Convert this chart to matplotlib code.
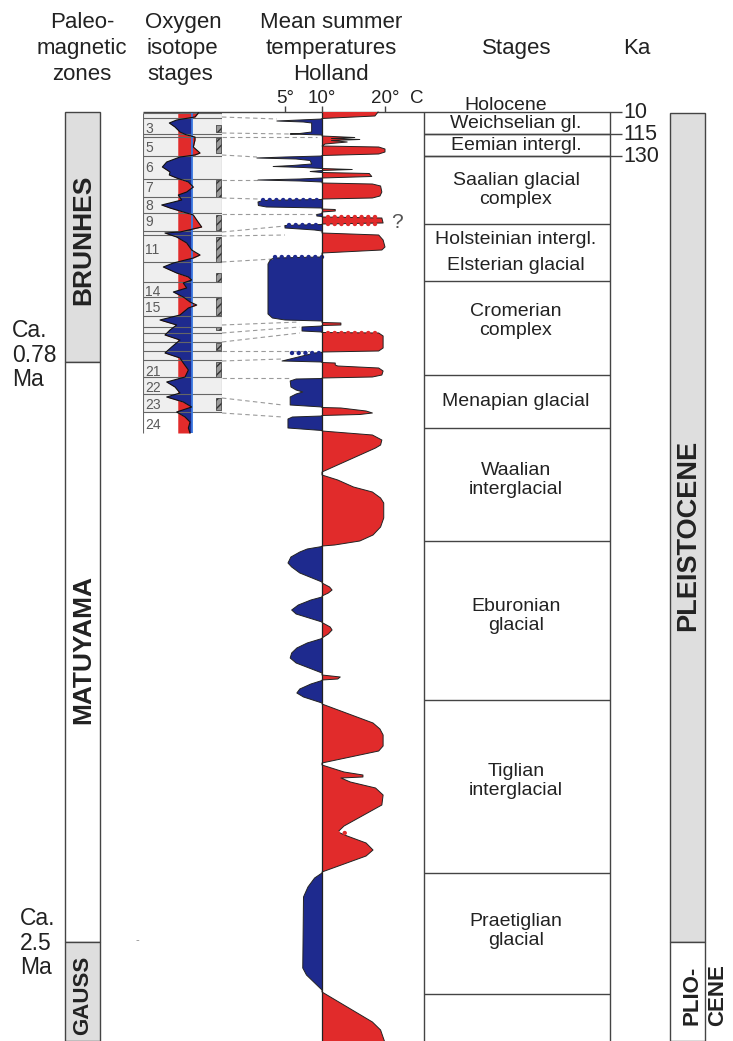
# ==================================================================================
# IMPORT LIBRARIES
# ==================================================================================
from matplotlib import pyplot as plt
import numpy as np

plt.rcParams['font.family'] = ['Liberation Sans', 'DejaVu Sans']

# ==================================================================================
# DATA  (vertical unit = position down the chart, time is not linear)
# ==================================================================================
# Paleomagnetic zones
mag_names   = ['BRUNHES', 'MATUYAMA', 'GAUSS']
mag_top     = [112, 362, 942]
mag_bottom  = [362, 942, 1041]
mag_label_y = [240, 650, 995]
mag_size    = [19, 19, 16]

# Epochs (right column)
epoch_names   = ['PLEISTOCENE', 'PLIO-\nCENE']
epoch_top     = [113, 942]
epoch_bottom  = [942, 1041]
epoch_label_y = [535, 995]

# Boundary ages
age_labels = ['Ca.\n0.78\nMa', 'Ca.\n2.5\nMa']
age_y      = [355, 943]
age_x      = [12, 20]

# Stages of Holland
stage_bounds = [112, 134, 156, 224, 281, 375, 428, 541, 700, 873, 994, 1041]
stage_names  = ['Weichselian gl.', 'Eemian intergl.', 'Saalian glacial\ncomplex',
                'Holsteinian intergl.', 'Elsterian glacial', 'Cromerian\ncomplex',
                'Menapian glacial', 'Waalian\ninterglacial', 'Eburonian\nglacial',
                'Tiglian\ninterglacial', 'Praetiglian\nglacial']
stage_text_y = [123, 145, 190, 240, 266, 321, 401, 480, 616, 781, 931]

# Ka marks
ka_labels = ['10', '115', '130']
ka_y      = [112, 134, 156]

# Oxygen isotope column (x in 0..100 across the column)
iso_bounds   = [113, 118, 134, 137, 156, 179, 197, 213, 231, 235, 262, 282, 297,
                316, 327, 333, 342, 351, 360, 377, 394, 412]
iso_numbers  = ['3', '5', '6', '7', '8', '9', '11', '14', '15', '21', '22', '23', '24']
iso_number_y = [129, 148, 168, 188, 206, 222, 250, 292, 308, 372, 388, 405, 425]
iso_marks    = [(125, 132), (138, 153), (180, 197), (215, 230), (237, 262), (273, 282),
                (298, 315), (327, 330), (343, 350), (362, 377), (398, 410)]
iso_y = [113, 117, 120, 123, 127, 132, 135, 137, 140, 147, 153, 155, 157, 162, 167,
         172, 175, 178, 182, 187, 192, 195, 200, 205, 208, 212, 215, 220, 227, 232,
         233, 237, 243, 250, 255, 258, 263, 267, 273, 277, 280, 283, 288, 292, 297,
         302, 305, 308, 315, 320, 325, 330, 335, 340, 347, 353, 358, 363, 370, 377,
         382, 387, 393, 397, 402, 407, 412, 417, 422, 428, 433]
iso_x = [70, 65.8, 42.6, 33.3, 40.5, 46.8, 55.3, 65.8, 65.8, 63.7, 72.2, 65.8, 46.8, 30, 24.5,
         34.2, 33.3, 42.6, 57.4, 63.7, 55.3, 44.7, 49, 23.7, 34.2, 51, 63.7, 68, 74.3, 46.8,
         27.8, 42.6, 55.3, 61.6, 72.2, 63.7, 38.4, 25.7, 42.6, 57.4, 61.6, 51, 55.3, 38.4, 51,
         59.5, 68, 57.4, 46.8, 21.5, 42.6, 34.2, 27.8, 46.8, 36.3, 27.8, 46.8, 51, 57.4, 53.2,
         30, 40.5, 46.8, 30, 51, 61.6, 42.6, 53.2, 59.5, 57.4, 59.5]
iso_red_base  = 44
iso_blue_base = 62

# Mean summer temperature, Holland (position, degrees C)
temp_curve = [
    # Holocene
    (112, 18.9), (116, 18.4), (118.5, 10),
    # Weichselian
    (119, 10), (120, 7.0), (121, 3.9), (122, 7.5), (123, 8.6), (132, 8.6), (133.5, 7.0), (134, 5.7), (135, 10),
    # Eemian
    (136, 10), (137.5, 15.2), (138.5, 11.5), (139.5, 16.0), (140.5, 11.5), (142, 14.0), (144, 10.5), (146, 10),
    (147, 19.0), (149, 20.0), (152, 20.0), (154, 19.0), (155.5, 10),
    # Saalian
    (156, 10), (157, 5.0), (158, 1.2), (159, 6.5), (160.5, 8.4), (164, 8.6), (165.5, 6.0), (166.5, 3.4),
    (167.5, 7.5), (168.5, 10), (169.5, 14.8), (170.5, 10), (171.5, 8.4), (172.5, 10), (173.5, 17.5),
    (176.5, 17.9), (178, 10), (179, 7.0), (180, 1.35), (181, 7.0), (182, 10),
    (183, 10), (184, 18.0), (186, 19.3), (192, 19.5), (196, 19.2), (198, 18.0), (199, 10),
    (199.5, 10), (200.5, 2.0), (202, 1.35), (205.5, 1.4), (207, 2.5), (208, 10),
    (209, 10), (209.5, 12.1), (211, 12.1), (212, 10),
    (213.5, 10), (214.5, 9.3), (216, 9.3), (216.5, 10),
    (217, 10), (218, 19.5), (223, 19.7), (224, 10),
    (224.5, 10), (225.5, 5.0), (228, 5.0), (230, 9.0), (231, 10),
    # Holsteinian
    (233, 10), (235, 19.0), (240, 19.7), (247, 20.0), (250, 19.5), (253, 10),
    # Elsterian
    (257, 10), (258, 3.5), (260, 3.0), (264, 2.7), (314, 2.7), (318, 3.3), (320, 5.0), (321, 10),
    # Cromerian
    (322.5, 10), (323, 13.0), (325, 13.0), (325.5, 10),
    (326, 10), (327, 7.3), (331, 7.3), (332, 10),
    (332.5, 10), (333, 19.0), (336, 19.7), (348, 19.7), (351, 19.0), (352, 10),
    (352.5, 10), (353, 9.0), (361, 4.6), (362, 10),
    (362.5, 10), (363, 12.1), (365, 12.1), (366, 12.5), (368, 19.0), (371, 19.7), (375, 19.5), (377, 18.0), (378, 10),
    # Menapian
    (378.5, 10), (379, 6.5), (381, 5.7), (387, 5.8), (390, 6.5), (392, 7.4), (394, 6.5), (397, 5.7), (405, 5.7), (407, 10),
    (407.5, 10), (408, 13.0), (411, 17.0), (413, 18.0), (414.5, 16.0), (415.5, 10),
    (416, 10), (417, 6.0), (419, 5.4), (428, 5.4), (430, 9.0), (430.5, 10),
    # Waalian
    (431, 10), (435, 18.0), (440, 19.5), (445, 19.3), (448, 18.5), (472, 10),
    (475, 10), (480, 12.5), (487, 15.0), (492, 18.0), (498, 19.3), (503, 19.8), (518, 19.8),
    (527, 19.3), (535, 18.1), (541, 16.0), (545, 12.0), (546, 10),
    # Eburonian
    (546.5, 10), (549, 8.0), (552, 7.0), (557, 5.8), (563, 5.4), (567, 5.9), (573, 7.0), (582, 10),
    (583, 10), (587, 11.2), (590, 11.6), (593, 11.0), (596, 10),
    (597, 10), (600, 8.5), (605, 6.8), (610, 5.9), (614, 6.5), (622, 10),
    (622.5, 10), (627, 11.3), (630, 11.6), (634, 11.0), (638, 10),
    (638.5, 10), (643, 8.0), (648, 6.6), (653, 5.9), (658, 5.7), (663, 6.5), (673, 10),
    (675, 10), (677, 12.9), (679, 12.5), (680, 10),
    (680.5, 10), (684, 8.5), (689, 7.0), (693, 6.6), (697, 7.5), (703, 10),
    # Tiglian
    (704, 10), (723, 18.1), (729, 19.2), (735, 19.7), (746, 19.7), (751, 19.0), (763, 10),
    (765, 10), (772, 13.5), (775, 16.5), (777, 16.5), (778, 13.0), (782, 14.5), (788, 18.5),
    (795, 19.7), (805, 19.5), (812, 17.5), (826, 13.5), (832, 12.5), (836, 14.0), (843, 17.0),
    (850, 18.1), (856, 17.0), (872, 10),
    # Praetiglian
    (873, 10), (878, 9.0), (887, 8.1), (897, 7.5), (968, 7.4), (975, 7.9), (990, 10),
    (992, 10), (1022, 18.0), (1030, 19.3), (1041, 19.9),
]

# Wavy (scalloped) edges of some of the curve lobes: (position, from degC, to degC, colour key)
scallops = [(199.6, 2.0, 10, 'b'), (217.3, 11, 19.4, 'r'), (223.8, 11, 19.4, 'r'),
            (224.8, 5.5, 10, 'b'), (257.3, 3.6, 10, 'b'), (332.7, 11, 19.2, 'r'),
            (352.6, 6.0, 10, 'b'), (832.5, 12.6, 14.5, 'r')]

# Dashed correlation lines: (position at isotope column, position at curve, temperature at curve)
links = [(117, 119, 3.9), (133, 134, 5.7), (137, 137, 9.3), (155, 157, 1.2), (180, 180, 1.35),
         (198, 199, 1.35), (214, 214, 9.3), (232, 226, 5.0), (236, 235, 5.0), (262, 259, 3.4),
         (325, 322, 7.0), (333, 327, 7.0), (342, 333, 7.0), (351, 351, 8.4), (361, 359, 4.6),
         (378, 378, 5.7), (398, 405, 4.7), (413, 417, 4.7)]

temp_ticks = [5, 10, 20]

RED  = '#e12b2b'
BLUE = '#1e2a8e'
GREY = '#dedede'
LINE = '#444444'
TEXT = '#222222'


# ==================================================================================
# TEMPERATURE SCALE (two slopes, as drawn in the original)
# ==================================================================================
def t_to_px(t):
    t = np.asarray(t, dtype=float)
    return np.where(t < 10, 322 + (t - 10) * 7.4, 322 + (t - 10) * 6.3)

def px_to_t(x):
    x = np.asarray(x, dtype=float)
    return np.where(x < 322, 10 + (x - 322) / 7.4, 10 + (x - 322) / 6.3)


# ==================================================================================
# FIGURE
# ==================================================================================
fig = plt.figure(figsize=(7.33, 10.41), dpi=100)
ax = fig.add_axes([0, 0, 1, 1])
ax.set_xlim(0, 733)
ax.set_ylim(1041, 0)
ax.axis('off')

# Headers
HS = 16
ax.text(82, 28, 'Paleo-', ha='center', va='baseline', fontsize=HS, color=TEXT)
ax.text(82, 54, 'magnetic', ha='center', va='baseline', fontsize=HS, color=TEXT)
ax.text(82, 80, 'zones', ha='center', va='baseline', fontsize=HS, color=TEXT)
ax.text(145, 28, 'Oxygen', ha='left', va='baseline', fontsize=HS, color=TEXT)
ax.text(146, 54, 'isotope', ha='left', va='baseline', fontsize=HS, color=TEXT)
ax.text(147, 80, 'stages', ha='left', va='baseline', fontsize=HS, color=TEXT)
ax.text(331, 28, 'Mean summer', ha='center', va='baseline', fontsize=HS, color=TEXT)
ax.text(331, 54, 'temperatures', ha='center', va='baseline', fontsize=HS, color=TEXT)
ax.text(331, 80, 'Holland', ha='center', va='baseline', fontsize=HS, color=TEXT)
ax.text(517, 54, 'Stages', ha='center', va='baseline', fontsize=HS, color=TEXT)
ax.text(637, 54, 'Ka', ha='center', va='baseline', fontsize=HS, color=TEXT)

# Paleomagnetic zones
mag_h = np.array(mag_bottom) - np.array(mag_top)
ax.bar([82.5] * 3, mag_h, bottom=mag_top, width=35, color=[GREY, 'white', GREY],
       edgecolor=LINE, linewidth=1)
for name, y, fs in zip(mag_names, mag_label_y, mag_size):
    ax.text(83, y, name, rotation=90, ha='center', va='center', fontsize=fs,
            fontweight='bold', color=TEXT)
for lab, x, y in zip(age_labels, age_x, age_y):
    ax.text(x, y, lab, ha='left', va='center', fontsize=16.5, color=TEXT, linespacing=1.08)
ax.text(137, 940, '-', ha='center', va='center', fontsize=8, color='#888888')

# Epochs
ep_h = np.array(epoch_bottom) - np.array(epoch_top)
ax.bar([687.5] * 2, ep_h, bottom=epoch_top, width=35, color=[GREY, 'white'],
       edgecolor=LINE, linewidth=1)
ax.text(688, epoch_label_y[0], epoch_names[0], rotation=90, ha='center', va='center',
        fontsize=19.5, fontweight='bold', color=TEXT)
ax.text(705, epoch_label_y[1], epoch_names[1], rotation=90, ha='center', va='center',
        fontsize=16, fontweight='bold', color=TEXT, linespacing=1.3)

# Stage boxes
ax.hlines(stage_bounds[1:-1], 424, 610, color=LINE, linewidth=1)
ax.vlines([424, 610], stage_bounds[0], stage_bounds[-1], color=LINE, linewidth=1)
ax.hlines(ka_y[1:], 424, 622, color=LINE, linewidth=1)
ax.hlines(stage_bounds[0], 143, 622, color=LINE, linewidth=1)
for name, y in zip(stage_names, stage_text_y):
    ax.text(516, y, name, ha='center', va='center', fontsize=14, color=TEXT, linespacing=1.2)
ax.text(506, 110, 'Holocene', ha='center', va='baseline', fontsize=14, color=TEXT)
for lab, y in zip(ka_labels, ka_y):
    ax.text(623, y, lab, ha='left', va='center', fontsize=15.5, color=TEXT)


# ==================================================================================
# OXYGEN ISOTOPE COLUMN
# ==================================================================================
ax_o = fig.add_axes([143 / 733, 0, 79 / 733, 1])
ax_o.set_xlim(0, 100)
ax_o.set_ylim(1041, 0)
ax_o.axis('off')
ax_o.patch.set_alpha(0)

ax_o.fill_between([0, 100], iso_bounds[0], iso_bounds[-1], color='#efefef', linewidth=0)
for y0, y1 in iso_marks:
    ax_o.fill_between([92, 99], y0, y1, facecolor='#9a9a9a', edgecolor='#333333',
                      hatch='////', linewidth=0.5)
ax_o.hlines(iso_bounds, 0, 100, color='#666666', linewidth=0.8)
ax_o.vlines(0, iso_bounds[0], iso_y[-1], color='#666666', linewidth=0.8)
ax_o.vlines(100, iso_bounds[0], iso_bounds[-1], color='#666666', linewidth=0.8)
for n, y in zip(iso_numbers, iso_number_y):
    ax_o.text(3, y, n, ha='left', va='center', fontsize=10, color='#5a5a5a')

iso_x_arr = np.array(iso_x)
ax_o.fill_betweenx(iso_y, iso_red_base, iso_x_arr, color=RED, linewidth=0)
ax_o.fill_betweenx(iso_y, iso_x_arr, iso_blue_base, where=iso_x_arr < iso_blue_base,
                   interpolate=True, color=BLUE, linewidth=0)
ax_o.vlines(iso_blue_base, iso_y[0], iso_y[-1], color='#3a78e0', linewidth=1.3)
ax_o.plot(iso_x, iso_y, color='#111111', linewidth=0.8)


# ==================================================================================
# MEAN SUMMER TEMPERATURE CURVE
# ==================================================================================
ax_t = fig.add_axes([0, 0, 1, 1])
ax_t.set_xscale('function', functions=(t_to_px, px_to_t))
ax_t.set_xlim(float(px_to_t(0)), float(px_to_t(733)))
ax_t.set_ylim(1041, 0)
ax_t.axis('off')
ax_t.patch.set_alpha(0)

col_edge = float(px_to_t(222))
for y0, y1, t1 in links:
    ax_t.plot([col_edge, t1], [y0, y1], color='#9a9a9a', linewidth=0.8, linestyle=(0, (4, 3)))

curve_y = np.array([p[0] for p in temp_curve])
curve_t = np.array([p[1] for p in temp_curve])
ax_t.fill_betweenx(curve_y, 10, curve_t, where=curve_t >= 10, interpolate=True,
                   color=RED, linewidth=0)
ax_t.fill_betweenx(curve_y, curve_t, 10, where=curve_t <= 10, interpolate=True,
                   color=BLUE, linewidth=0)
ax_t.plot(curve_t, curve_y, color='#222222', linewidth=0.7)
for y, t0, t1, c in scallops:
    ax_t.plot([t0, t1], [y, y], color=RED if c == 'r' else BLUE, linewidth=3.2,
              linestyle=(0, (0.01, 1.5)), dash_capstyle='round')
ax_t.vlines(10, stage_bounds[0], 1041, color='#222222', linewidth=0.9)

# Temperature ticks
ax_t.vlines(temp_ticks, 106, 112, color=LINE, linewidth=1)
for t in temp_ticks:
    ax_t.text(t, 103, f'{t}°', ha='center', va='baseline', fontsize=13.5, color=TEXT)
ax_t.text(25.1, 103, 'C', ha='center', va='baseline', fontsize=13.5, color=TEXT)
ax_t.text(21.9, 223, '?', ha='center', va='center', fontsize=15, color='#555555')

fig.savefig('out.png', dpi=100)
